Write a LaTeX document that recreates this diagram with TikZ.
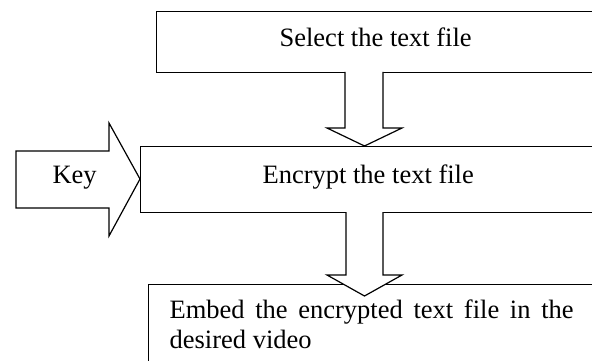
\documentclass[tikz,border=0pt]{standalone}
\usepackage{fontspec}
\setmainfont{Liberation Serif}
\begin{document}
\begin{tikzpicture}[x=1pt,y=-1pt, line width=1.2pt,
  box/.style={draw, rectangle, inner sep=0pt, anchor=north west},
  lbl/.style={inner sep=0pt, anchor=base west, font=\fontsize{26.5}{30}\selectfont},
  blockarrow/.style={draw, fill=white, line join=miter}]
\clip (0,0) rectangle (592,361);
% boxes (run past the right edge, as in the reference)
\node[box, minimum width=450pt, minimum height=61pt] (select) at (156,11) {};
\node[box, minimum width=460pt, minimum height=66pt] (encrypt) at (140,146) {};
\node[box, minimum width=460pt, minimum height=100pt] (embed) at (148,284) {};
% block arrows
\draw[blockarrow] (345,72) -- (345,128) -- (327,128) -- (364.5,146) -- (402,128) -- (383,128) -- (383,72);
\draw[blockarrow] (16,151) -- (109,151) -- (109,123) -- (140,179) -- (109,236) -- (109,208) -- (16,208) -- cycle;
\draw[blockarrow] (346,212) -- (346,275) -- (327,275) -- (364.5,296) -- (402,275) -- (383,275) -- (383,212);
% texts
\node[lbl] (tselect) at (279,47) {Select the text file};
\node[lbl] (tencrypt) at (262,183) {Encrypt the text file};
\node[lbl] (tkey) at (52,183) {Key};
\node[lbl] (tembed1) at (169,318) {\makebox[404pt][s]{Embed the encrypted text file in the}};
\node[lbl] (tembed2) at (169,348) {desired video};
\end{tikzpicture}
\end{document}
